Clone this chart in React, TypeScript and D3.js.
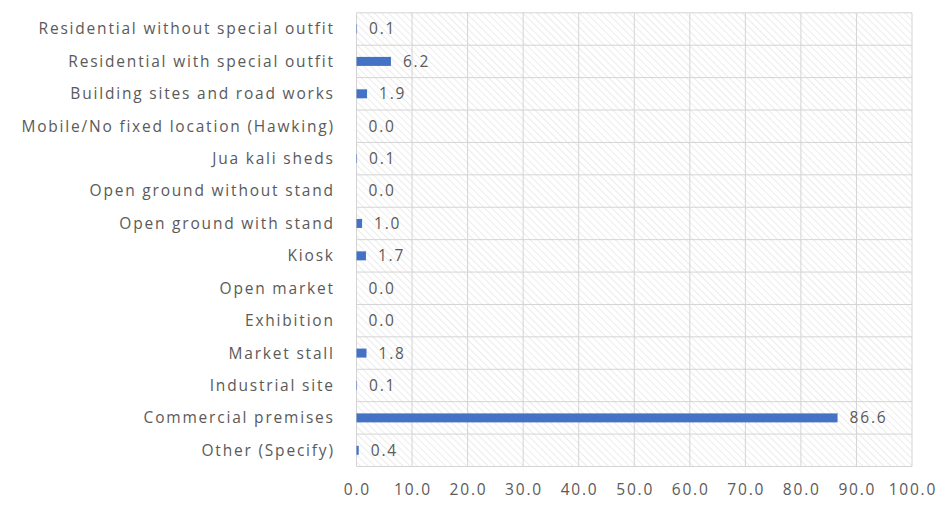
import React from "react";
import * as d3 from "d3";

const categories = [
  "Residential without special outfit",
  "Residential with special outfit",
  "Building sites and road works",
  "Mobile/No fixed location (Hawking)",
  "Jua kali sheds",
  "Open ground without stand",
  "Open ground with stand",
  "Kiosk",
  "Open market",
  "Exhibition",
  "Market stall",
  "Industrial site",
  "Commercial premises",
  "Other (Specify)",
];
const values = [0.1, 6.2, 1.9, 0.0, 0.1, 0.0, 1.0, 1.7, 0.0, 0.0, 1.8, 0.1, 86.6, 0.4];
const xTicks = [0, 10, 20, 30, 40, 50, 60, 70, 80, 90, 100];

const W = 938;
const H = 507;
const left = 356.5;
const right = 912;
const top = 12.8;
const bottom = 466.5;
const font = "'Open Sans', sans-serif";
const fs = 15.5;
const ls = 1.8;
const textColor = "#5a5a5a";

export default function App() {
  const x = d3.scaleLinear().domain([0, 100]).range([left, right]);
  const y = d3.scaleBand<string>().domain(categories).range([top, bottom]).paddingInner(0).paddingOuter(0);
  const bw = y.bandwidth();
  const barH = 9;
  return (
    <svg width={W} height={H} style={{ position: "absolute", left: 0, top: 0, background: "#fff" }}>
      <defs>
        <pattern id="hatch" width="5" height="5" patternUnits="userSpaceOnUse" patternTransform="rotate(-45)">
          <line x1="0" y1="0" x2="0" y2="5" stroke="#e2e2e2" strokeWidth="1.3" />
        </pattern>
      </defs>
      <rect x={left} y={top} width={right - left} height={bottom - top} fill="url(#hatch)" />
      {xTicks.map((t) => (
        <line key={"v" + t} x1={x(t)} x2={x(t)} y1={top} y2={bottom} stroke="#d4d4d4" strokeWidth={1} />
      ))}
      {categories.map((c, i) => (
        <line key={"h" + i} x1={left} x2={right} y1={y(c)!} y2={y(c)!} stroke="#d4d4d4" strokeWidth={1} />
      ))}
      <line x1={left} x2={right} y1={bottom} y2={bottom} stroke="#d4d4d4" strokeWidth={1} />
      {categories.map((c, i) => {
        const cy = y(c)! + bw / 2;
        const w = x(values[i]) - x(0);
        return (
          <g key={"b" + i}>
            {values[i] > 0 && (
              <rect x={x(0)} y={cy - barH / 2} width={w} height={barH} fill="#4472C4" />
            )}
            <text x={x(values[i]) + 12} y={cy} dy="0.35em" fontFamily={font} fontSize={fs} letterSpacing={ls} fill={textColor}>
              {values[i].toFixed(1)}
            </text>
            <text x={333 + ls} y={cy} dy="0.35em" textAnchor="end" fontFamily={font} fontSize={fs} letterSpacing={ls} fill={textColor}>
              {c}
            </text>
          </g>
        );
      })}
      {xTicks.map((t) => (
        <text key={"t" + t} x={x(t) + ls / 2} y={490} dy="0.35em" textAnchor="middle" fontFamily={font} fontSize={fs} letterSpacing={ls} fill={textColor}>
          {t.toFixed(1)}
        </text>
      ))}
    </svg>
  );
}
